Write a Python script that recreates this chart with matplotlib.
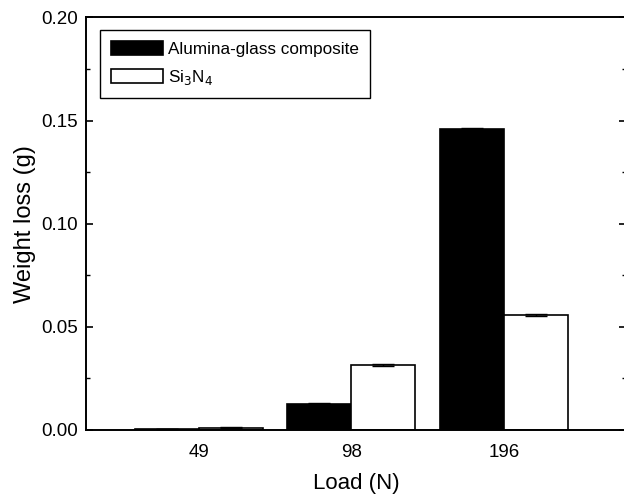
import matplotlib.pyplot as plt
import numpy as np
from matplotlib.ticker import MultipleLocator

plt.rcParams['font.family'] = ['Liberation Sans', 'DejaVu Sans']

loads = ['49', '98', '196']
alumina = [0.0005, 0.0128, 0.1460]
alumina_err = [0.0002, 0.0003, 0.0005]
si3n4 = [0.0012, 0.0315, 0.0556]
si3n4_err = [0.0002, 0.0005, 0.0005]

fig = plt.figure(figsize=(6.24, 4.94), dpi=100)
ax = fig.add_axes([0.1378, 0.1296, 0.865, 0.835])

x = np.arange(1, len(loads) + 1)
w = 0.42
ax.bar(x - w/2, alumina, w, color='black', edgecolor='black', linewidth=1.2,
       yerr=alumina_err, capsize=8, error_kw=dict(ecolor='black', elinewidth=1, capthick=1),
       label='Alumina-glass composite')
ax.bar(x + w/2, si3n4, w, color='white', edgecolor='black', linewidth=1.2,
       yerr=si3n4_err, capsize=8, error_kw=dict(ecolor='black', elinewidth=1, capthick=1),
       label='Si$_3$N$_4$')

ax.set_xlim(0.26, 3.8)
ax.set_ylim(0, 0.20)
ax.set_xticks(x)
ax.set_xticklabels(loads)
ax.yaxis.set_major_locator(MultipleLocator(0.05))
ax.yaxis.set_minor_locator(MultipleLocator(0.025))
ax.yaxis.set_major_formatter(plt.FormatStrFormatter('%.2f'))
ax.tick_params(axis='y', which='both', direction='in', right=True, labelsize=13.5, pad=5.5)
ax.tick_params(axis='y', which='major', length=5, width=1.2)
ax.tick_params(axis='y', which='minor', length=3, width=1)
ax.tick_params(axis='x', length=0, labelsize=13.5, pad=10)
for s in ax.spines.values():
    s.set_linewidth(1.4)

ax.set_xlabel('Load (N)', fontsize=16, labelpad=9)
ax.set_ylabel('Weight loss (g)', fontsize=17, labelpad=4)

leg = ax.legend(loc='upper left', bbox_to_anchor=(0.026, 0.970), borderaxespad=0,
                fontsize=12.3, fancybox=False, edgecolor='black', framealpha=1,
                handlelength=3.05, handleheight=0.85, handletextpad=0.3,
                borderpad=0.65, labelspacing=0.65)
leg.get_frame().set_linewidth(1.0)

plt.savefig('out.png', dpi=100)
